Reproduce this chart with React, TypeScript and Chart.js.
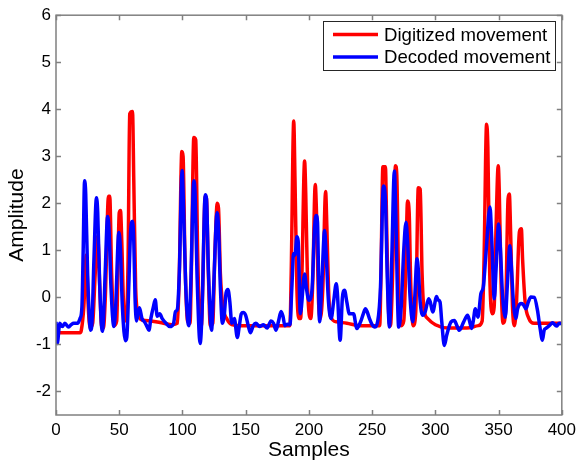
import React, { useEffect, useRef } from "react";
import { Chart, registerables } from "chart.js";

Chart.register(...registerables);

const xTicks = [0, 50, 100, 150, 200, 250, 300, 350, 400];
const yTicks = [-2, -1, 0, 1, 2, 3, 4, 5, 6];
const seriesNames = ["Digitized movement", "Decoded movement"];

const digitizedX = [
  0, 19, 20, 22, 24, 25.5, 27, 29, 31, 33, 34.5, 36, 37.5, 39, 41.5, 42.5, 44, 46, 48, 50, 51, 52, 53.5, 55.5, 57,
  58.3, 60.5, 61.5, 63, 65, 68, 75, 85, 92, 96, 97.5, 99.5, 100.5, 102, 104, 106, 107, 109, 110.5, 112, 113.5, 115,
  116, 118, 119, 120.5, 122, 124, 125.5, 127.5, 128.5, 130, 132, 135, 139, 145, 160, 185, 186, 188, 189, 190.5, 192,
  193.5, 194.5, 196.6, 197.5, 199, 201.5, 203, 205, 206, 207.5, 209, 211, 213.2, 214.2, 215.5, 217, 222, 230, 240,
  256, 257, 258.5, 260.5, 261.5, 263, 264.5, 266, 268.5, 269.5, 271, 273, 275, 276.5, 278, 279.3, 280.5, 282.5,
  284.5, 286.5, 288, 289.5, 291, 294, 300, 310, 325, 334, 337, 338.5, 340.5, 341.5, 343, 345, 346.5, 348, 349.7,
  350.5, 352, 353.5, 355.5, 357.5, 358.5, 359.5, 361, 362.5, 364, 366.5, 368, 369, 371, 374, 378, 390, 400,
];
const digitizedY = [
  -0.75, -0.75, -0.7, -0.2, 0.9, -0.2, -0.65, -0.55, 0.5, 1.3, 0.3, -0.6, -0.65, 0, 2.15, 2.15, 0.5, -0.6, -0.5, 1.8,
  1.85, 1.2, -0.2, -0.5, 0.8, 3.9, 3.95, 2.5, 0.2, -0.35, -0.48, -0.5, -0.55, -0.58, -0.55, 0.5, 3.1, 3.0, 0.8, -0.5,
  -0.55, 0.5, 3.4, 3.35, 1, -0.4, -0.6, 0.2, 2.15, 2.1, 0.5, -0.6, -0.55, 0.8, 2.0, 1.9, 0.5, -0.2, -0.45, -0.58,
  -0.6, -0.6, -0.6, 0.5, 3.75, 2.5, 0.2, -0.45, -0.45, 0.5, 2.9, 2.2, 0.2, -0.45, 0.3, 2.4, 1.8, 0, -0.45, 0.2, 2.25,
  1.5, 0.2, -0.4, -0.52, -0.55, -0.6, -0.6, 0.5, 2.78, 2.78, 1.5, -0.3, -0.6, 0.3, 2.8, 2.6, 0.3, -0.6, -0.5, 0.5,
  2.05, 1.8, 0.3, -0.6, -0.3, 2.33, 2.3, 0.5, -0.25, -0.45, -0.58, -0.65, -0.65, -0.6, -0.5, 0.8, 3.68, 3.2, 0.5,
  -0.35, -0.2, 1.5, 2.8, 2.3, 0.3, -0.55, -0.3, 2.1, 2.2, 1.4, -0.2, -0.6, -0.2, 1.4, 1.46, 0.8, -0.1, -0.45, -0.55,
  -0.55, -0.55,
];

const decodedX = [
  0, 1, 3, 5, 7, 10, 12, 14, 17, 19, 20.5, 21.5, 22.6, 23.5, 25, 27.4, 28.5, 30, 32, 33, 34.5, 36.6, 37.5, 39, 40.8,
  42, 43.5, 45.8, 47, 49.7, 50.8, 52.5, 55, 56, 57.5, 59, 60.5, 61.5, 62.5, 63.7, 65, 66, 68, 70, 72, 73.5, 75, 77,
  78.5, 80, 82, 84, 87, 90, 93, 94.5, 96, 97.5, 99.7, 101, 102.5, 105, 106.5, 109, 110, 111.5, 114, 115.5, 118, 119,
  120.5, 123, 124.5, 127.4, 128.5, 130, 131.6, 133, 134.5, 136, 137.5, 139, 141, 143.4, 145, 146.5, 148, 150, 152,
  153.7, 156, 158, 161, 164, 167, 170, 172, 174, 176, 178, 179.5, 181, 183, 185, 186.5, 187.9, 189, 190.5, 191.5,
  193.2, 196.6, 198, 200, 202.4, 204.5, 205.8, 206.8, 208.4, 210.5, 212.4, 213.5, 215.5, 217.6, 219.5, 221.6, 222.5,
  224.7, 226.5, 228.2, 230, 232, 235.3, 237.9, 239.5, 241.3, 243, 244.7, 246, 247.9, 250, 251.8, 254.5, 256.6, 258.9,
  260.5, 262, 263.7, 265.5, 267.6, 268.5, 271, 273, 275, 276.8, 278, 280, 282.1, 283.5, 285.5, 286.5, 288, 290, 292,
  294.7, 296, 297.9, 301, 302, 303.7, 305, 307.1, 309, 312.4, 315, 317, 319, 322.4, 325.5, 327, 328.7, 330, 331.6,
  333.7, 336, 337.9, 340, 343.2, 344.5, 346.6, 348, 350, 351.5, 353, 355.3, 357, 358.9, 360, 362, 363.7, 365, 367.6,
  369.5, 371.6, 373.5, 375.5, 378.2, 380.8, 382.5, 384.7, 386, 387.4, 390.5, 392.6, 395.8, 398, 400,
];
const decodedY = [
  -0.52, -0.98, -0.55, -0.62, -0.55, -0.63, -0.58, -0.55, -0.55, -0.45, -0.2, 1.0, 2.48, 2.2, 0.5, -0.7, -0.5, 0.8,
  2.12, 1.8, 0.3, -0.72, -0.5, 0.6, 1.72, 1.4, 0.2, -0.62, -0.3, 1.38, 1.1, -0.2, -0.92, -0.85, 0.2, 1.4, 1.62, 1.2,
  0.0, -0.5, -0.3, -0.22, -0.45, -0.52, -0.62, -0.7, -0.45, -0.2, -0.05, -0.4, -0.35, -0.45, -0.55, -0.62, -0.55,
  -0.3, -0.25, 0.5, 2.7, 1.8, 0.3, -0.6, 0.2, 2.48, 2.2, 0.5, -0.98, -0.3, 2.18, 2.1, 0.6, -0.7, 0.1, 1.8, 1.5, 0.2,
  -0.55, -0.4, 0.1, 0.17, -0.1, -0.55, -0.45, -0.85, -0.6, -0.35, -0.32, -0.38, -0.6, -0.75, -0.6, -0.55, -0.62,
  -0.58, -0.65, -0.5, -0.55, -0.7, -0.5, -0.3, -0.4, -0.6, -0.57, -0.58, 0.2, 0.93, 0.9, 1.29, 1.2, -0.35, 0.5, 0.2,
  -0.06, 0.15, 1.5, 1.74, 1.6, -0.52, 0.5, 1.42, 1.0, -0.1, -0.45, -0.1, 0.29, 0.1, -0.91, 0.0, 0.15, -0.1, -0.35,
  -0.35, -0.66, -0.6, -0.49, -0.35, -0.24, -0.3, -0.45, -0.58, -0.63, -0.49, 0.22, 2.37, 2.06, 0.4, -0.63, 0.8, 2.69,
  2.0, -0.63, -0.2, 1.0, 1.6, 1.2, 0.0, -0.52, -0.1, 0.82, 0.6, -0.1, -0.38, -0.3, -0.03, -0.1, -0.31, 0.02, -0.05,
  -0.1, -0.5, -1.02, -0.8, -0.52, -0.49, -0.6, -0.7, -0.52, -0.38, -0.5, -0.66, -0.5, -0.24, -0.42, 0.08, 0.22, 0.93,
  1.92, 1.3, -0.03, 0.6, 1.56, 1.0, 0.1, -0.42, 0.3, 1.1, 0.7, -0.2, -0.45, -0.25, -0.13, -0.15, -0.24, -0.1, 0.01, 0,
  -0.28, -0.6, -0.91, -0.7, -0.66, -0.59, -0.54, -0.61, -0.55, -0.56,
];

const FONT = "'Liberation Sans', Arial, Helvetica, sans-serif";
const AXIS_GRAY = "#808080";

const framePlugin = {
  id: "matlabFrame",
  afterDraw(chart: any) {
    const { ctx, chartArea } = chart;
    const { left, right, top, bottom } = chartArea;
    const xs = chart.scales.x;
    const ys = chart.scales.y;
    ctx.save();
    ctx.strokeStyle = AXIS_GRAY;
    ctx.lineWidth = 1.5;
    ctx.beginPath();
    const tl = 5;
    xs.ticks.forEach((t: any) => {
      const px = Math.round(xs.getPixelForValue(t.value)) + 0.5;
      ctx.moveTo(px, bottom);
      ctx.lineTo(px, bottom - tl);
      ctx.moveTo(px, top);
      ctx.lineTo(px, top + tl);
    });
    ys.ticks.forEach((t: any) => {
      const py = Math.round(ys.getPixelForValue(t.value)) + 0.5;
      ctx.moveTo(left, py);
      ctx.lineTo(left + tl, py);
      ctx.moveTo(right, py);
      ctx.lineTo(right - tl, py);
    });
    ctx.stroke();
    ctx.lineWidth = 1.5;
    ctx.strokeRect(left, top, right - left, bottom - top);

    // legend
    const lx = 323.5, ly = 21.5, lw = 232, lh = 49;
    ctx.fillStyle = "#ffffff";
    ctx.fillRect(lx, ly, lw, lh);
    ctx.strokeStyle = "#262626";
    ctx.lineWidth = 1;
    ctx.strokeRect(lx, ly, lw, lh);
    const ds = chart.data.datasets;
    const rows = [34.5, 57];
    ds.forEach((d: any, i: number) => {
      ctx.strokeStyle = d.borderColor;
      ctx.lineWidth = 3.5;
      ctx.beginPath();
      ctx.moveTo(333, rows[i]);
      ctx.lineTo(378, rows[i]);
      ctx.stroke();
      ctx.fillStyle = "#000000";
      ctx.font = `18.6px ${FONT}`;
      ctx.textBaseline = "middle";
      ctx.textAlign = "left";
      ctx.fillText(d.label, 384, rows[i] + 1);
    });
    ctx.restore();
  },
};

export default function App() {
  const ref = useRef<HTMLCanvasElement | null>(null);
  useEffect(() => {
    if (!ref.current) return;
    const red = digitizedX.map((x, i) => ({ x, y: digitizedY[i] }));
    const blue = decodedX.map((x, i) => ({ x, y: decodedY[i] }));
    const chart = new Chart(ref.current, {
      type: "line",
      data: {
        datasets: [
          {
            label: seriesNames[0],
            data: red,
            borderColor: "#ff0000",
            borderWidth: 3.5,
            pointRadius: 0,
            cubicInterpolationMode: "monotone",
            order: 2,
          },
          {
            label: seriesNames[1],
            data: blue,
            borderColor: "#0000ff",
            borderWidth: 3.5,
            pointRadius: 0,
            cubicInterpolationMode: "monotone",
            order: 1,
          },
        ],
      },
      options: {
        animation: false,
        responsive: false,
        events: [],
        layout: { padding: { top: 14, right: 18, left: 0, bottom: 0 } },
        plugins: { legend: { display: false }, tooltip: { enabled: false } },
        scales: {
          x: {
            type: "linear",
            min: 0,
            max: 400,
            afterBuildTicks: (s: any) => {
              s.ticks = xTicks.map((v) => ({ value: v }));
            },
            afterFit: (s: any) => {
              s.height = 48;
            },
            grid: { display: false, drawTicks: false },
            border: { display: false },
            ticks: {
              padding: 5,
              color: "#000000",
              font: { family: FONT, size: 17, lineHeight: 1.2 },
              maxRotation: 0,
            },
            title: {
              display: true,
              text: "Samples",
              color: "#000000",
              font: { family: FONT, size: 21, lineHeight: 1 },
              padding: { top: 0, bottom: 2 },
            },
          },
          y: {
            type: "linear",
            min: -2.5,
            max: 6,
            afterBuildTicks: (s: any) => {
              s.ticks = yTicks.map((v) => ({ value: v }));
            },
            afterFit: (s: any) => {
              s.width = 56;
            },
            grid: { display: false, drawTicks: false },
            border: { display: false },
            ticks: {
              padding: 5,
              color: "#000000",
              font: { family: FONT, size: 17, lineHeight: 1.2 },
            },
            title: {
              display: true,
              text: "Amplitude",
              color: "#000000",
              font: { family: FONT, size: 21, lineHeight: 1 },
              padding: { top: 7, bottom: 0 },
            },
          },
        },
      },
      plugins: [framePlugin],
    });
    return () => chart.destroy();
  }, []);
  return (
    <div style={{ position: "fixed", left: 0, top: 0, width: 581, height: 463, background: "#fff" }}>
      <canvas ref={ref} width={581} height={463} style={{ display: "block" }} />
    </div>
  );
}
